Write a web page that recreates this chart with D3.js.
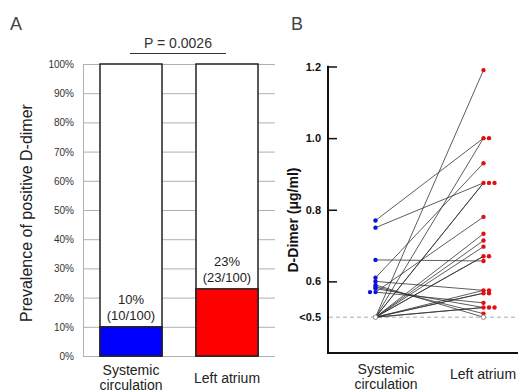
<!DOCTYPE html>
<html>
<head>
<meta charset="utf-8">
<script src="https://cdn.jsdelivr.net/npm/d3@7"></script>
<style>
  body { margin: 0; background: #fff; }
  svg { font-family: "Liberation Sans", Arial, sans-serif; }
</style>
</head>
<body>
<svg id="chart" width="518" height="390"></svg>
<script>
// panel A data
const groups = ["Systemic circulation", "Left atrium"];
const prevalence = [10, 23];
const countLabels = ["(10/100)", "(23/100)"];
const barColors = ["#0000ff", "#ff0000"];
const pctTicks = [0, 10, 20, 30, 40, 50, 60, 70, 80, 90, 100];
const pValue = "P = 0.0026";

// panel B data, paired per patient: [systemic, left atrium], null = below 0.5
const systemicVals = [0.77, 0.75, 0.66, 0.61, 0.60, 0.59, 0.585, 0.58, 0.57, 0.57,
    null, null, null, null, null, null, null, null, null, null, null, null, null, null];
const atriumVals = [1.00, 0.875, 0.657, 0.93, 0.575, null, 0.51, 0.527, 0.54, 0.78,
    1.19, 1.00, 0.875, 0.875, 0.733, 0.714, 0.697, 0.67, 0.67, 0.575, 0.567, 0.567, 0.527, 0.527];
const dimerTicks = [0.6, 0.8, 1.0, 1.2];
const lod = 0.5;

const svg = d3.select("#chart");

// ---------- panel A ----------
const xA = d3.scaleBand().domain(groups).range([83, 275]).paddingInner(0.354).paddingOuter(0.177);
const yA = d3.scaleLinear().domain([0, 100]).range([356, 64]);

const gA = svg.append("g");

gA.selectAll("line.grid")
    .data(pctTicks)
    .enter()
    .append("line")
    .attr("class", "grid")
    .attr("x1", 83).attr("x2", 275)
    .attr("y1", d => yA(d) + 0.5).attr("y2", d => yA(d) + 0.5)
    .attr("stroke", "#b0b0b0").attr("stroke-width", 1);

gA.append("line")
    .attr("x1", 83.5).attr("x2", 83.5)
    .attr("y1", yA(100)).attr("y2", yA(0))
    .attr("stroke", "#b0b0b0");

gA.selectAll("text.tick")
    .data(pctTicks)
    .enter()
    .append("text")
    .attr("x", 74)
    .attr("y", d => yA(d) + 4)
    .attr("text-anchor", "end")
    .style("font-size", "10px")
    .style("fill", "#333")
    .text(d => d + "%");

// white full bars
gA.selectAll("rect.full")
    .data(groups)
    .enter()
    .append("rect")
    .attr("x", d => xA(d))
    .attr("y", yA(100))
    .attr("width", xA.bandwidth())
    .attr("height", yA(0) - yA(100))
    .attr("fill", "#fff")
    .attr("stroke", "#222")
    .attr("stroke-width", 1.5);

gA.selectAll("rect.pos")
    .data(groups)
    .enter()
    .append("rect")
    .attr("x", d => xA(d))
    .attr("y", (d, i) => yA(prevalence[i]))
    .attr("width", xA.bandwidth())
    .attr("height", (d, i) => yA(0) - yA(prevalence[i]))
    .attr("fill", (d, i) => barColors[i])
    .attr("stroke", "#222")
    .attr("stroke-width", 1.5);

gA.selectAll("text.pct")
    .data(groups)
    .enter()
    .append("text")
    .attr("x", d => xA(d) + xA.bandwidth() / 2)
    .attr("y", (d, i) => yA(prevalence[i]) - 23)
    .attr("text-anchor", "middle")
    .style("font-size", "13px")
    .style("fill", "#222")
    .text((d, i) => prevalence[i] + "%");

gA.selectAll("text.cnt")
    .data(groups)
    .enter()
    .append("text")
    .attr("x", d => xA(d) + xA.bandwidth() / 2)
    .attr("y", (d, i) => yA(prevalence[i]) - 7)
    .attr("text-anchor", "middle")
    .style("font-size", "13px")
    .style("fill", "#222")
    .text((d, i) => countLabels[i]);

// category labels
const xLabA = gA.selectAll("text.cat")
    .data(groups)
    .enter()
    .append("text")
    .attr("text-anchor", "middle")
    .style("font-size", "14px")
    .style("fill", "#222");
xLabA.each(function (d) {
    const words = d === "Left atrium" ? [d] : d.split(" ");
    const cx = xA(d) + xA.bandwidth() / 2;
    const y0 = words.length > 1 ? 375 : 383;
    words.forEach((w, k) => {
        d3.select(this).append("tspan").attr("x", cx).attr("y", y0 + k * 15).text(w);
    });
});

// p-value
gA.append("text")
    .attr("x", 178).attr("y", 48)
    .attr("text-anchor", "middle")
    .style("font-size", "14px")
    .style("fill", "#333")
    .text(pValue);
gA.append("line")
    .attr("x1", 130).attr("x2", 226)
    .attr("y1", 53.5).attr("y2", 53.5)
    .attr("stroke", "#333").attr("stroke-width", 1);

gA.append("text")
    .attr("transform", "translate(32,213) rotate(-90)")
    .attr("text-anchor", "middle")
    .style("font-size", "16px")
    .style("fill", "#222")
    .text("Prevalence of positive D-dimer");

svg.append("text").attr("x", 10).attr("y", 30)
    .style("font-size", "18px").style("fill", "#444").text("A");

// ---------- panel B ----------
const xB = d3.scalePoint().domain(groups).range([375.5, 483.5]);
const yB = d3.scaleLinear().domain([0.4, 1.2]).range([353, 66.5]);

const gB = svg.append("g");

// dashed detection limit
gB.append("line")
    .attr("x1", 329).attr("x2", 516)
    .attr("y1", yB(lod)).attr("y2", yB(lod))
    .attr("stroke", "#aaa").attr("stroke-dasharray", "4,3");

const yAxisB = d3.axisRight(yB).tickValues(dimerTicks).tickSize(9).tickFormat("");
gB.append("g")
    .attr("transform", "translate(328,0)")
    .call(yAxisB)
    .call(g => g.select(".domain").remove())
    .call(g => g.selectAll(".tick line").attr("stroke", "#111").attr("stroke-width", 1.5));

gB.append("line")
    .attr("x1", 328).attr("x2", 328)
    .attr("y1", yB(1.2) - 0.7).attr("y2", yB(0.4))
    .attr("stroke", "#111").attr("stroke-width", 2);
gB.append("line")
    .attr("x1", 327).attr("x2", 518)
    .attr("y1", yB(0.4)).attr("y2", yB(0.4))
    .attr("stroke", "#111").attr("stroke-width", 2);

const tickLabels = dimerTicks.map(v => ({v: v, t: v.toFixed(1)})).concat([{v: lod, t: "<0.5"}]);
gB.selectAll("text.ytick")
    .data(tickLabels)
    .enter()
    .append("text")
    .attr("x", 321)
    .attr("y", d => yB(d.v) + 4)
    .attr("text-anchor", "end")
    .style("font-size", "11px")
    .style("font-weight", "bold")
    .style("fill", "#111")
    .text(d => d.t);

gB.append("text")
    .attr("transform", "translate(298,220) rotate(-90)")
    .attr("text-anchor", "middle")
    .style("font-size", "14px")
    .style("font-weight", "bold")
    .style("fill", "#111")
    .text("D-Dimer (μg/ml)");

const pairs = systemicVals.map((s, i) => ({s: s, a: atriumVals[i]}));
const yv = v => yB(v === null ? lod : v);

gB.selectAll("line.pair")
    .data(pairs)
    .enter()
    .append("line")
    .attr("x1", xB(groups[0])).attr("x2", xB(groups[1]))
    .attr("y1", d => yv(d.s)).attr("y2", d => yv(d.a))
    .attr("stroke", "#333").attr("stroke-width", 0.8);

// points with side jitter for tied values
function dots(vals, cx, dir, color) {
    const seen = {};
    const pts = [];
    vals.forEach(v => {
        if (v === null) return;
        const k = seen[v] || 0;
        seen[v] = k + 1;
        pts.push({v: v, x: cx + dir * k * 5.5});
    });
    gB.selectAll(null)
        .data(pts)
        .enter()
        .append("circle")
        .attr("cx", d => d.x)
        .attr("cy", d => yB(d.v))
        .attr("r", 2.2)
        .attr("fill", color);
    gB.append("circle")
        .attr("cx", cx).attr("cy", yB(lod))
        .attr("r", 2.3)
        .attr("fill", "#fff").attr("stroke", "#777").attr("stroke-width", 0.8);
}
dots(systemicVals, xB(groups[0]), -1, "#1010e0");
dots(atriumVals, xB(groups[1]), 1, "#e01010");

const catB = [{t: ["Systemic", "circulation"], x: 386, y: 374}, {t: ["Left atrium"], x: 483, y: 379}];
catB.forEach(c => {
    const t = gB.append("text")
        .attr("text-anchor", "middle")
        .style("font-size", "14px")
        .style("fill", "#222");
    c.t.forEach((w, k) => t.append("tspan").attr("x", c.x).attr("y", c.y + k * 15).text(w));
});

svg.append("text").attr("x", 291).attr("y", 30)
    .style("font-size", "18px").style("fill", "#444").text("B");
</script>
</body>
</html>
